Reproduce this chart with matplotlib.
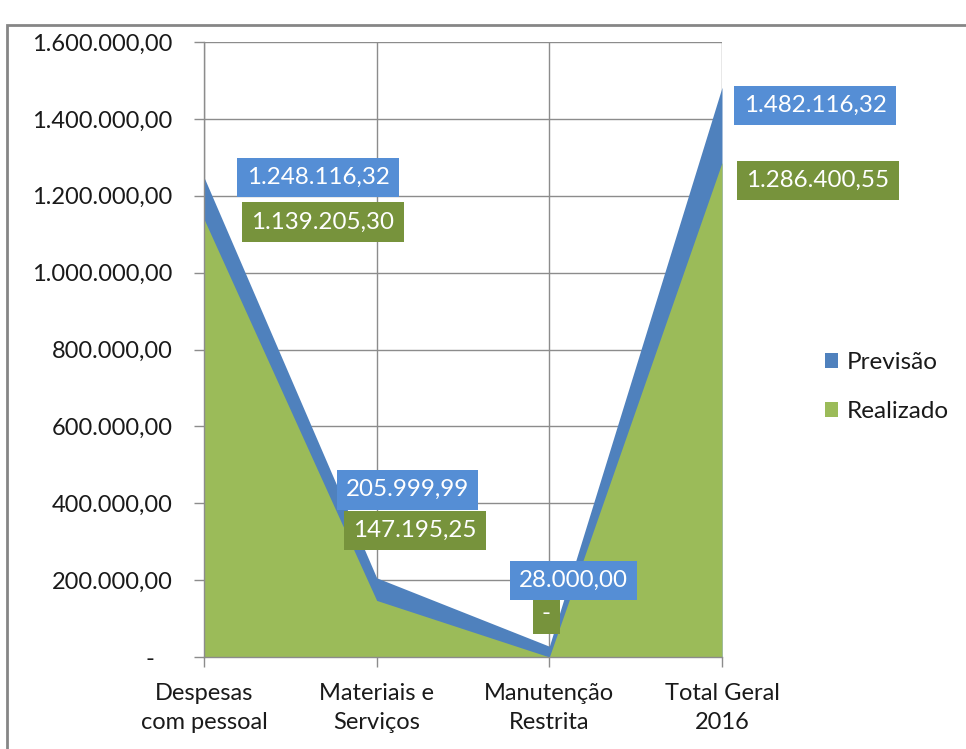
import matplotlib
matplotlib.use("Agg")
import matplotlib.pyplot as plt
from matplotlib.ticker import FuncFormatter, MultipleLocator
from matplotlib.patches import Rectangle

categories = ["Despesas\ncom pessoal", "Materiais e\nServiços", "Manutenção\nRestrita", "Total Geral\n2016"]
previsao = [1248116.32, 205999.99, 28000.00, 1482116.32]
realizado = [1139205.30, 147195.25, 0.0, 1286400.55]
prev_labels = ["1.248.116,32", "205.999,99", "28.000,00", "1.482.116,32"]
real_labels = ["1.139.205,30", "147.195,25", "-", "1.286.400,55"]

# label offsets in pixels from the data point (dx, dy up)
prev_off = [(114, 0), (31, 88), (24, 66), (93, -18)]
real_off = [(119, -3), (38, 70), (-3, 43), (96, -18)]

plt.rcParams['font.family'] = ['Lato', 'DejaVu Sans']

fig = plt.figure(figsize=(9.66, 7.49), dpi=100)
ax = fig.add_axes([204/966, 1-657/749, (722-204)/966, (657-42)/749])

x = list(range(len(categories)))
c_blue = "#4F81BD"
c_green = "#9BBB59"
ax.fill_between(x, previsao, 0, color=c_blue, label="Previsão", zorder=2, linewidth=0)
ax.fill_between(x, realizado, 0, color=c_green, label="Realizado", zorder=3, linewidth=0)

ax.set_xlim(0, 3)
ax.set_ylim(0, 1600000)
ax.yaxis.set_major_locator(MultipleLocator(200000))

def fmt(v, pos):
    if abs(v) < 1e-6:
        return "-   "
    s = f"{v:,.2f}"
    return s.replace(",", "X").replace(".", ",").replace("X", ".")

ax.yaxis.set_major_formatter(FuncFormatter(fmt))
ax.set_xticks(x)
ax.set_xticklabels(categories)

grid_c = "#8C8C8C"
ax.grid(True, color=grid_c, linewidth=1.0, zorder=1)
ax.set_axisbelow(True)
for s in ["top", "right"]:
    ax.spines[s].set_visible(False)
for s in ["left", "bottom"]:
    ax.spines[s].set_color(grid_c)
    ax.spines[s].set_linewidth(1.0)
    ax.spines[s].set_zorder(4)
ax.tick_params(axis='both', colors=grid_c, length=7, width=1.0, labelcolor="#1a1a1a", labelsize=17)
ax.tick_params(axis='y', pad=15.5)
ax.tick_params(axis='x', pad=12)
for t in ax.get_xticklabels():
    t.set_linespacing(1.45)

box_blue = "#558ED5"
box_green = "#77933C"
for i in x:
    ax.annotate(prev_labels[i], xy=(i, previsao[i]), xytext=prev_off[i], textcoords='offset pixels',
                ha='center', va='center', color='white', fontsize=17.4, zorder=6,
                bbox=dict(boxstyle='square,pad=0.38', fc=box_blue, ec='none'), annotation_clip=False)
    ax.annotate(real_labels[i], xy=(i, realizado[i]), xytext=real_off[i], textcoords='offset pixels',
                ha='center', va='center', color='white', fontsize=17.4, zorder=5,
                bbox=dict(boxstyle='square,pad=0.38', fc=box_green, ec='none'), annotation_clip=False)

leg = fig.legend(loc='upper left', bbox_to_anchor=(825/966, 1-352/749), frameon=False,
                 fontsize=17.5, handlelength=0.55, handleheight=0.55, handletextpad=0.35,
                 labelspacing=1.15, borderpad=0, borderaxespad=0, labelcolor="#1a1a1a")

fig.patches.append(Rectangle((7/966, -0.1), 1.2, 1.1 - 25/749, transform=fig.transFigure,
                             fill=False, ec="#868686", lw=2.0))

fig.savefig("out.png", dpi=100)
